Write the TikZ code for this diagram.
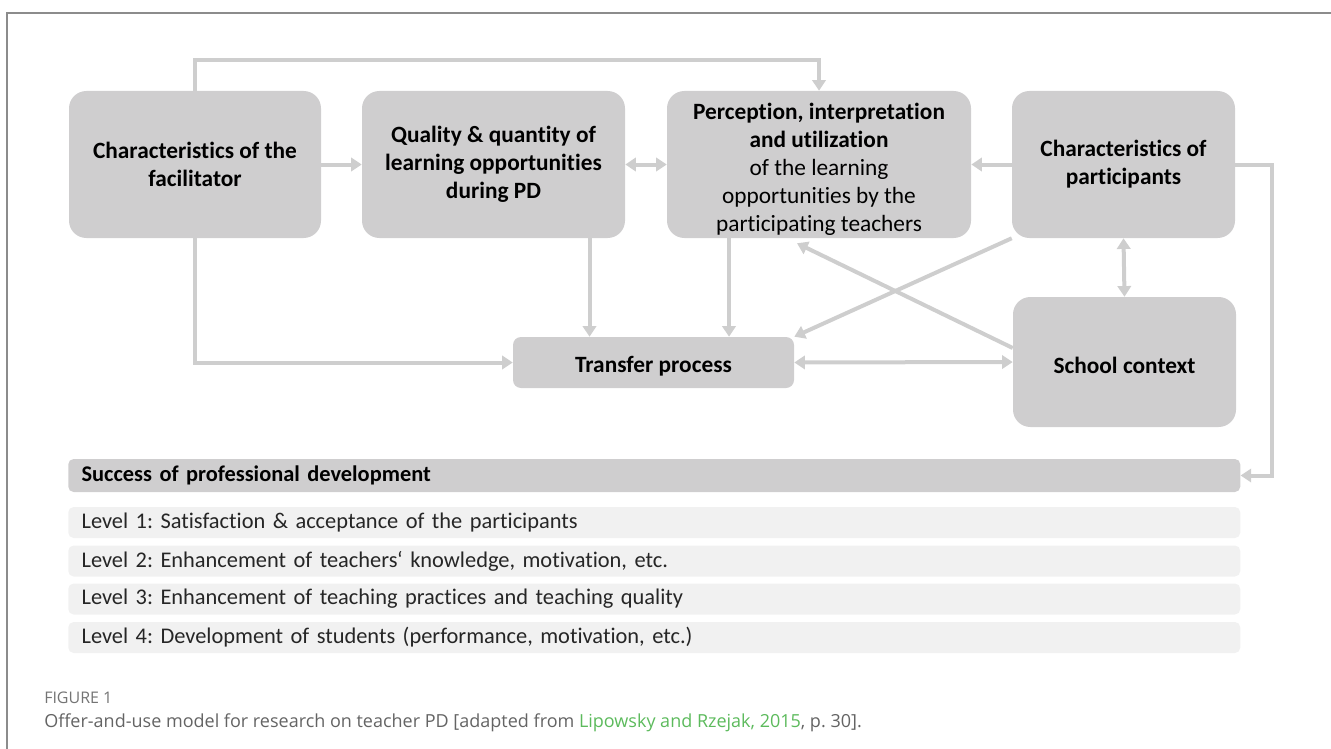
\documentclass[tikz,border=0pt]{standalone}
\usepackage{fontspec}
\setmainfont[Ligatures=NoCommon]{Carlito}
\newfontfamily\capfont{Open Sans}
\usetikzlibrary{arrows.meta,calc}
\frenchspacing

\definecolor{boxgray}{RGB}{207,206,207}
\definecolor{linegray}{RGB}{206,206,206}
\definecolor{levelgray}{RGB}{241,241,241}
\definecolor{framegray}{RGB}{140,140,140}
\definecolor{capgray}{RGB}{100,100,100}
\definecolor{linkgreen}{RGB}{92,186,92}

\tikzset{
    modelbox/.style={fill=boxgray, rounded corners=13pt, inner sep=0pt, align=center,
        minimum height=110.25pt, font=\fontsize{17.5}{21}\selectfont\bfseries,
        execute at begin node={\rule{0pt}{17pt}}},
    conn/.style={draw=linegray, line width=3pt, -{Triangle[length=8pt,width=10pt]}},
    twoway/.style={draw=linegray, line width=3pt, {Triangle[length=8pt,width=10pt]}-{Triangle[length=8pt,width=10pt]}},
    levelbox/.style={fill=levelgray, rounded corners=4pt, anchor=west, inner xsep=10pt, inner ysep=0pt,
        text width=859pt, align=left, minimum height=23.25pt, font=\fontsize{16.8}{19}\selectfont, text=black!85}
}

\begin{document}
\begin{tikzpicture}[x=0.75pt, y=-0.75pt]
    \useasboundingbox (0,0) rectangle (1331,749);

    % Frame
    \draw[framegray, line width=0.8pt] (7,749) -- (7,13) -- (1331,13);

    % Boxes of the model
    \node[modelbox, minimum width=189pt] (fac) at (195,164.5) {Characteristics of the\\facilitator};
    \node[modelbox, minimum width=197.25pt] (qual) at (493.5,164.5) {Quality \& quantity of\\learning opportunities\\during PD};
    \node[modelbox, minimum width=228pt] (perc) at (819,164.5) {\rule{0pt}{19pt}Perception, interpretation\\and utilization\\\mdseries of the learning\\\mdseries opportunities by the\\\mdseries participating teachers};
    \node[modelbox, minimum width=167.25pt] (part) at (1123.5,164.5) {Characteristics of\\participants};
    \node[modelbox, minimum width=210.75pt, minimum height=38.25pt, rounded corners=6pt] (transfer) at (653.5,362.5) {Transfer process};
    \node[modelbox, minimum width=167.25pt, minimum height=97.5pt] (school) at (1124.5,362) {School context};

    % Arrows between the boxes
    \draw[conn] (fac.north) -- ++(0,-31) -| (perc.north);
    \draw[conn] (fac.east) -- (qual.west);
    \draw[twoway] (qual.east) -- (perc.west);
    \draw[conn] (part.west) -- (perc.east);
    \draw[conn] (fac.south) |- (transfer.west);
    \draw[conn] ($(qual.south)+(96,0)$) coordinate (qdown) -- (qdown |- transfer.north);
    \draw[conn] ($(perc.south)+(-90,0)$) coordinate (pdown) -- (pdown |- transfer.north);
    \draw[conn] (part.south west) -- (transfer.north east);
    \draw[conn] ($(school.west)+(0,-14)$) -- ($(perc.south)+(-22,5)$);
    \draw[twoway] (transfer.east) -- (school.west);
    \draw[twoway] (part.south) -- (school.north);

    % Success of professional development
    \node[levelbox, fill=boxgray, minimum height=24.75pt, font=\fontsize{16.8}{19}\selectfont\bfseries, text=black] (success) at (68,475.5) {Success of professional development};
    \draw[conn] (part.east) -- ++(37,0) |- (success.east);

    % Levels
    \def\levelbar(#1,#2)#3{
                \node[levelbox] (#1) at (68,#2) {#3};
    }

    \levelbar(lev1,522.5){Level 1: Satisfaction \& acceptance of the participants}
    \levelbar(lev2,561){Level 2: Enhancement of teachers‘ knowledge, motivation, etc.}
    \levelbar(lev3,599){Level 3: Enhancement of teaching practices and teaching quality}
    \levelbar(lev4,637.5){Level 4: Development of students (performance, motivation, etc.)}

    % Caption
    \node[anchor=base west, inner sep=0pt, text=capgray!90, font=\capfont\fontsize{12}{14}\selectfont] (fignum) at (44,703) {FIGURE 1};
    \node[anchor=base west, inner sep=0pt, text=capgray, font=\capfont\fontsize{13.5}{16}\selectfont] (caption) at (44,727)
        {Offer-and-use model for research on teacher PD [adapted from \textcolor{linkgreen}{Lipowsky and Rzejak, 2015}, p. 30].};

\end{tikzpicture}
\end{document}
